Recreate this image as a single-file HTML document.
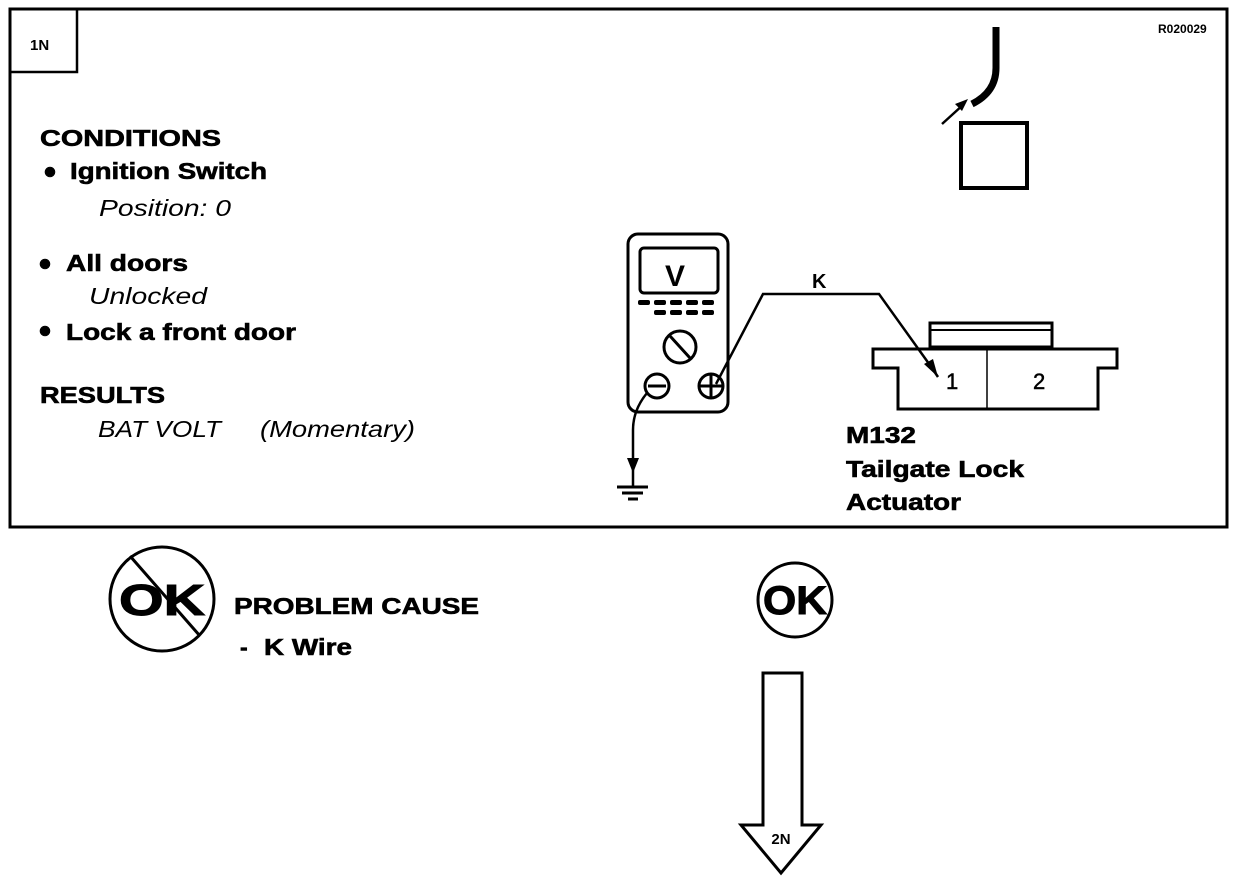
<!DOCTYPE html>
<html><head><style>html,body{margin:0;padding:0;background:#fff}svg{display:block}</style></head>
<body>
<svg width="1248" height="882" viewBox="0 0 1248 882" xmlns="http://www.w3.org/2000/svg" font-family="Liberation Sans, sans-serif">
<rect x="10" y="9" width="1217" height="518" fill="none" stroke="#000" stroke-width="3"/>
<rect x="10" y="9" width="67" height="63" fill="none" stroke="#000" stroke-width="2.5"/>
<text x="30" y="50" font-size="15" font-weight="bold">1N</text>
<text x="1158" y="33" font-size="12" font-weight="bold">R020029</text>
<g font-weight="bold" font-size="23" stroke="#000" stroke-width="0.6">
<text x="40" y="146" textLength="181" lengthAdjust="spacingAndGlyphs">CONDITIONS</text>
<circle cx="50" cy="172" r="5"/>
<text x="70" y="179" textLength="197" lengthAdjust="spacingAndGlyphs">Ignition Switch</text>
<circle cx="45" cy="264" r="5"/>
<text x="66" y="271" textLength="122" lengthAdjust="spacingAndGlyphs">All doors</text>
<circle cx="45" cy="331" r="5"/>
<text x="66" y="340" textLength="230" lengthAdjust="spacingAndGlyphs">Lock a front door</text>
<text x="40" y="403" textLength="125" lengthAdjust="spacingAndGlyphs">RESULTS</text>
</g>
<g font-style="italic" font-size="23" lengthAdjust="spacingAndGlyphs">
<text x="99" y="216" textLength="132" lengthAdjust="spacingAndGlyphs">Position: 0</text>
<text x="89" y="304" textLength="118" lengthAdjust="spacingAndGlyphs">Unlocked</text>
<text x="98" y="437" textLength="123" lengthAdjust="spacingAndGlyphs">BAT VOLT</text>
<text x="260" y="437" textLength="155" lengthAdjust="spacingAndGlyphs">(Momentary)</text>
</g>
<!-- top right -->
<path d="M996 27 L996 68 Q996 92 972 104" fill="none" stroke="#000" stroke-width="7"/>
<path d="M942 124 L964 104" stroke="#000" stroke-width="2.5"/>
<path d="M968 99 L955 104 L962 111 Z" fill="#000"/>
<rect x="961" y="123" width="66" height="65" fill="none" stroke="#000" stroke-width="4"/>
<!-- multimeter -->
<rect x="628" y="234" width="100" height="178" rx="10" fill="none" stroke="#000" stroke-width="3"/>
<rect x="640" y="248" width="78" height="45" rx="4" fill="none" stroke="#000" stroke-width="3"/>
<text x="665" y="286" font-size="30" font-weight="bold">V</text>
<g fill="#000">
<rect x="638" y="300" width="12" height="5" rx="2"/><rect x="654" y="300" width="12" height="5" rx="2"/><rect x="670" y="300" width="12" height="5" rx="2"/><rect x="686" y="300" width="12" height="5" rx="2"/><rect x="702" y="300" width="12" height="5" rx="2"/>
<rect x="654" y="310" width="12" height="5" rx="2"/><rect x="670" y="310" width="12" height="5" rx="2"/><rect x="686" y="310" width="12" height="5" rx="2"/><rect x="702" y="310" width="12" height="5" rx="2"/>
</g>
<circle cx="680" cy="347" r="16" fill="none" stroke="#000" stroke-width="3"/>
<path d="M670 336 L690 358" stroke="#000" stroke-width="3"/>
<circle cx="657" cy="386" r="12" fill="none" stroke="#000" stroke-width="3"/>
<path d="M648 386 H666" stroke="#000" stroke-width="3"/>
<circle cx="711" cy="386" r="12" fill="none" stroke="#000" stroke-width="3"/>
<path d="M699 386 H723 M711 374 V398" stroke="#000" stroke-width="3"/>
<!-- wire K -->
<path d="M716 384 L763 294 L879 294 L932 368" fill="none" stroke="#000" stroke-width="2.5"/>
<path d="M938 377 L924 364 L933 359 Z" fill="#000"/>
<text x="812" y="288" font-size="20" font-weight="bold">K</text>
<!-- ground -->
<path d="M647 393 Q633 410 633 430 L633 487" fill="none" stroke="#000" stroke-width="2.5"/>
<path d="M627 458 L639 458 L633 473 Z" fill="#000"/>
<path d="M617 487 H648 M622 493 H643 M628 499 H638" stroke="#000" stroke-width="3"/>
<!-- connector -->
<rect x="930" y="323" width="122" height="24" fill="none" stroke="#000" stroke-width="3"/>
<path d="M930 330 H1052" stroke="#000" stroke-width="2"/>
<path d="M873 349 H1117 V368 H1098 V409 H898 V368 H873 Z" fill="none" stroke="#000" stroke-width="3"/>
<path d="M987 349 V409" stroke="#000" stroke-width="1.5"/>
<path d="M932 368 L938 377" stroke="#000" stroke-width="2.5"/>
<text x="946" y="389" font-size="22" stroke="#000" stroke-width="0.5">1</text>
<text x="1033" y="389" font-size="22" stroke="#000" stroke-width="0.5">2</text>
<g font-weight="bold" font-size="23" stroke="#000" stroke-width="0.6">
<text x="846" y="443" textLength="70" lengthAdjust="spacingAndGlyphs">M132</text>
<text x="846" y="477" textLength="178" lengthAdjust="spacingAndGlyphs">Tailgate Lock</text>
<text x="846" y="510" textLength="115" lengthAdjust="spacingAndGlyphs">Actuator</text>
</g>
<!-- NG -->
<circle cx="162" cy="599" r="52" fill="none" stroke="#000" stroke-width="3"/>
<path d="M130 556 L200 636" stroke="#000" stroke-width="3"/>
<text x="162" y="615" font-size="44" font-weight="bold" text-anchor="middle" textLength="86" lengthAdjust="spacingAndGlyphs" stroke="#000" stroke-width="1">OK</text>
<g font-weight="bold" font-size="23" stroke="#000" stroke-width="0.6">
<text x="234" y="614" textLength="245" lengthAdjust="spacingAndGlyphs">PROBLEM CAUSE</text>
<text x="240" y="655">-</text>
<text x="264" y="655" textLength="88" lengthAdjust="spacingAndGlyphs">K Wire</text>
</g>
<!-- OK -->
<circle cx="795" cy="600" r="37" fill="none" stroke="#000" stroke-width="3"/>
<text x="795" y="614" font-size="40" font-weight="bold" text-anchor="middle" textLength="64" lengthAdjust="spacingAndGlyphs" stroke="#000" stroke-width="1">OK</text>
<path d="M763 673 H802 V825 H821 L781 873 L741 825 H763 Z" fill="#fff" stroke="#000" stroke-width="3"/>
<text x="781" y="844" font-size="15" font-weight="bold" text-anchor="middle">2N</text>
</svg>
</body></html>
